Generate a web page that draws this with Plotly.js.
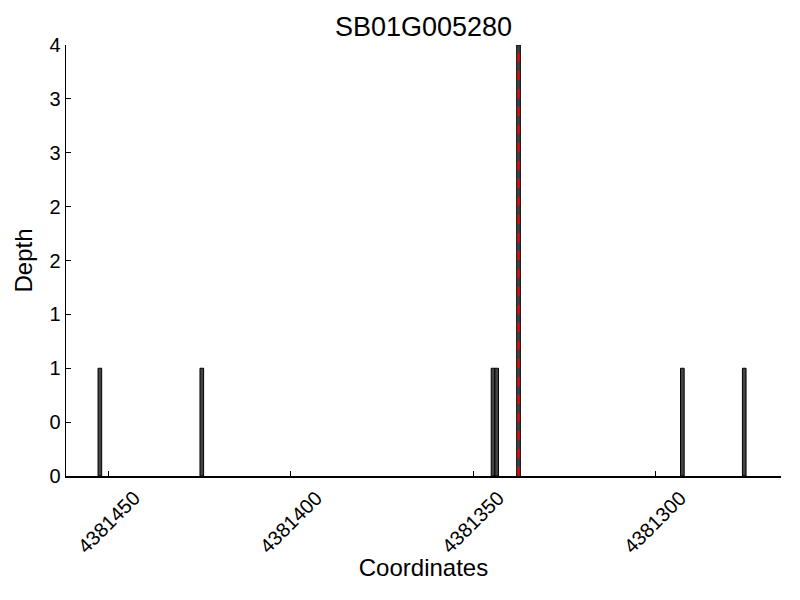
<!DOCTYPE html>
<html><head><meta charset="utf-8">
<script src="https://cdn.plot.ly/plotly-3.0.1.min.js"></script>
<style>html,body{margin:0;padding:0;background:#fff}</style>
</head><body>
<div id="chart" style="width:800px;height:600px"></div>
<script>
const positions = [4381452.5, 4381424.5, 4381344.5, 4381343.5, 4381337.5, 4381292.5, 4381275.5];
const depths = [1, 1, 1, 1, 4, 1, 1];
const markerPosition = 4381337.5;
const markerRange = [0, 4];
const yTickVals = [0, 0.5, 1, 1.5, 2, 2.5, 3, 3.5, 4];
const yTickText = ["0", "0", "1", "1", "2", "2", "3", "3", "4"];
const xTickVals = [4381450, 4381400, 4381350, 4381300];
const xTickText = ["4381450", "4381400", "4381350", "4381300"];
const titleText = "SB01G005280";

const font = "Liberation Sans, Arial, sans-serif";
const traces = [
  {type: "bar", x: positions, y: depths, width: positions.map(() => 1),
   marker: {color: "#444444", line: {color: "#000000", width: 1}}, hoverinfo: "x+y"},
  {type: "scatter", mode: "lines", x: [markerPosition, markerPosition], y: markerRange,
   line: {color: "#ff0000", width: 2, dash: "dash"}}
];
const tickAnnotations = xTickVals.map((v, i) => ({
  x: v, xref: "x", y: 0, yref: "paper", yshift: -8,
  text: xTickText[i], showarrow: false, textangle: -45,
  xanchor: "center", yanchor: "top",
  font: {size: 20, family: font, color: "#000"}
}));
const layout = {
  width: 800, height: 600, showlegend: false,
  paper_bgcolor: "#ffffff", plot_bgcolor: "#ffffff",
  margin: {l: 66, r: 19, t: 45, b: 124},
  font: {family: font, color: "#000000", size: 20},
  title: {text: titleText, font: {size: 27, family: font}, xref: "paper", x: 0.5, xanchor: "center", yref: "container", y: 0.955, yanchor: "middle"},
  bargap: 0,
  annotations: tickAnnotations,
  xaxis: {range: [4381461.8, 4381265.4], showgrid: false, zeroline: false,
    showline: true, linecolor: "#000", linewidth: 1.5, mirror: false,
    ticks: "inside", ticklen: 5, tickcolor: "#000",
    tickvals: xTickVals, ticktext: xTickText, showticklabels: false,
    title: {text: "Coordinates", font: {size: 24, family: font}, standoff: 82}},
  yaxis: {range: [0, 4], showgrid: false, zeroline: false,
    showline: true, linecolor: "#000", linewidth: 1.5,
    ticks: "inside", ticklen: 5, tickcolor: "#000",
    tickvals: yTickVals, ticktext: yTickText,
    tickfont: {size: 20, family: font},
    title: {text: "Depth", font: {size: 24, family: font}, standoff: 10}}
};
Plotly.newPlot("chart", traces, layout, {displayModeBar: false, staticPlot: true});
</script>
</body></html>
